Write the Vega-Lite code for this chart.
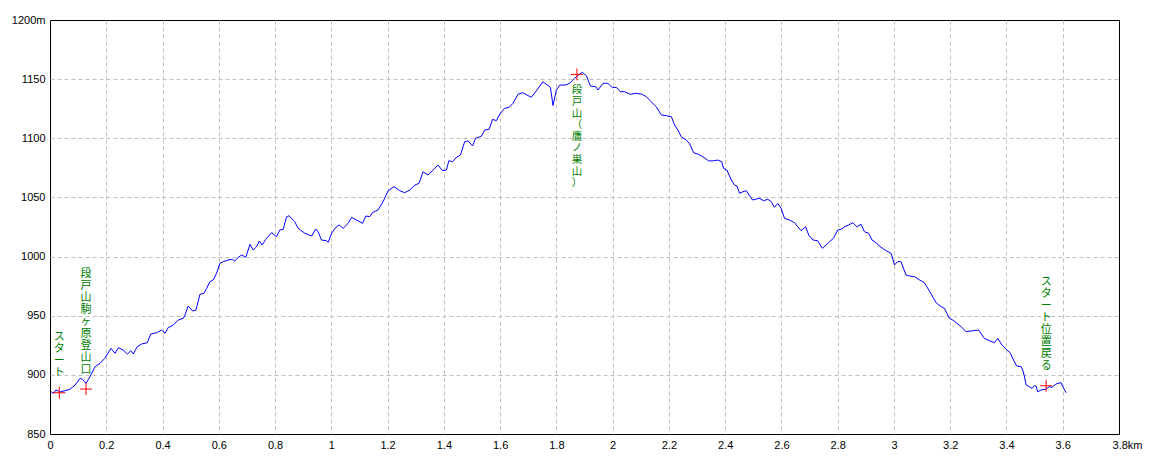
{
  "$schema": "https://vega.github.io/schema/vega-lite/v6.json",
  "width": 1069,
  "height": 414,
  "autosize": {"type": "none"},
  "padding": {"left": 50, "top": 20, "right": 41, "bottom": 30},
  "background": "white",
  "config": {
    "view": {"stroke": "black", "strokeWidth": 1},
    "axis": {
      "labelFont": "Liberation Sans",
      "labelFontSize": 11,
      "labelColor": "black",
      "domain": false,
      "ticks": false,
      "tickSize": 0,
      "gridColor": "#c0c0c0",
      "gridDash": [4, 3],
      "gridWidth": 1,
      "title": null
    },
    "text": {
      "font": "Noto Sans CJK JP",
      "fontSize": 11,
      "lineHeight": 12,
      "lineBreak": "\n",
      "color": "#008000",
      "align": "center",
      "baseline": "top"
    }
  },
  "datasets": {
    "profile": [
      {"km": 0.004, "elev": 885.7}, {"km": 0.012, "elev": 884.4}, {"km": 0.021, "elev": 887.2},
      {"km": 0.036, "elev": 885.7}, {"km": 0.053, "elev": 886.6}, {"km": 0.071, "elev": 887.8},
      {"km": 0.089, "elev": 891.4}, {"km": 0.107, "elev": 897.1}, {"km": 0.116, "elev": 896.2},
      {"km": 0.128, "elev": 892.8}, {"km": 0.142, "elev": 898.4}, {"km": 0.160, "elev": 906.9},
      {"km": 0.178, "elev": 909.8}, {"km": 0.195, "elev": 914.0}, {"km": 0.217, "elev": 922.4},
      {"km": 0.231, "elev": 918.2}, {"km": 0.243, "elev": 922.9}, {"km": 0.260, "elev": 921.0},
      {"km": 0.275, "elev": 917.6}, {"km": 0.287, "elev": 920.4}, {"km": 0.296, "elev": 917.6},
      {"km": 0.310, "elev": 923.8}, {"km": 0.326, "elev": 926.1}, {"km": 0.346, "elev": 927.2},
      {"km": 0.358, "elev": 934.5}, {"km": 0.379, "elev": 935.6}, {"km": 0.397, "elev": 937.9},
      {"km": 0.409, "elev": 935.1}, {"km": 0.420, "elev": 939.9}, {"km": 0.438, "elev": 942.1},
      {"km": 0.456, "elev": 946.4}, {"km": 0.474, "elev": 947.8}, {"km": 0.480, "elev": 950.6},
      {"km": 0.491, "elev": 958.2}, {"km": 0.507, "elev": 954.0}, {"km": 0.519, "elev": 954.8},
      {"km": 0.533, "elev": 968.1}, {"km": 0.547, "elev": 968.9}, {"km": 0.557, "elev": 973.2},
      {"km": 0.568, "elev": 978.7}, {"km": 0.580, "elev": 980.2}, {"km": 0.592, "elev": 985.8},
      {"km": 0.604, "elev": 994.3}, {"km": 0.616, "elev": 995.7}, {"km": 0.633, "elev": 997.1},
      {"km": 0.649, "elev": 997.7}, {"km": 0.657, "elev": 996.2}, {"km": 0.669, "elev": 999.4},
      {"km": 0.681, "elev": 1001.3}, {"km": 0.696, "elev": 999.4}, {"km": 0.711, "elev": 1010.4},
      {"km": 0.722, "elev": 1005.5}, {"km": 0.734, "elev": 1008.3}, {"km": 0.744, "elev": 1013.2},
      {"km": 0.754, "elev": 1009.8}, {"km": 0.767, "elev": 1014.6}, {"km": 0.788, "elev": 1020.2},
      {"km": 0.805, "elev": 1016.8}, {"km": 0.817, "elev": 1022.5}, {"km": 0.829, "elev": 1023.0},
      {"km": 0.841, "elev": 1033.7}, {"km": 0.850, "elev": 1034.5}, {"km": 0.870, "elev": 1029.5},
      {"km": 0.882, "elev": 1023.9}, {"km": 0.906, "elev": 1019.7}, {"km": 0.930, "elev": 1017.4},
      {"km": 0.945, "elev": 1023.3}, {"km": 0.953, "elev": 1021.0}, {"km": 0.965, "elev": 1014.0},
      {"km": 0.983, "elev": 1013.4}, {"km": 0.989, "elev": 1012.1}, {"km": 1.001, "elev": 1019.7},
      {"km": 1.016, "elev": 1024.7}, {"km": 1.028, "elev": 1026.7}, {"km": 1.042, "elev": 1023.9},
      {"km": 1.060, "elev": 1028.1}, {"km": 1.072, "elev": 1033.2}, {"km": 1.090, "elev": 1030.9},
      {"km": 1.111, "elev": 1028.1}, {"km": 1.123, "elev": 1034.3}, {"km": 1.137, "elev": 1033.7},
      {"km": 1.146, "elev": 1037.1}, {"km": 1.166, "elev": 1039.4}, {"km": 1.184, "elev": 1046.4},
      {"km": 1.202, "elev": 1055.7}, {"km": 1.223, "elev": 1059.1}, {"km": 1.243, "elev": 1055.7},
      {"km": 1.261, "elev": 1054.0}, {"km": 1.279, "elev": 1056.3}, {"km": 1.297, "elev": 1060.5},
      {"km": 1.312, "elev": 1061.9}, {"km": 1.326, "elev": 1071.7}, {"km": 1.344, "elev": 1069.0},
      {"km": 1.368, "elev": 1074.6}, {"km": 1.379, "elev": 1077.4}, {"km": 1.395, "elev": 1072.6},
      {"km": 1.409, "elev": 1073.2}, {"km": 1.418, "elev": 1081.0}, {"km": 1.431, "elev": 1080.2},
      {"km": 1.445, "elev": 1083.9}, {"km": 1.459, "elev": 1085.9}, {"km": 1.474, "elev": 1097.1},
      {"km": 1.486, "elev": 1097.7}, {"km": 1.502, "elev": 1093.5}, {"km": 1.513, "elev": 1100.0},
      {"km": 1.534, "elev": 1101.9}, {"km": 1.545, "elev": 1107.0}, {"km": 1.561, "elev": 1107.6},
      {"km": 1.573, "elev": 1116.0}, {"km": 1.587, "elev": 1114.9}, {"km": 1.599, "elev": 1120.5},
      {"km": 1.616, "elev": 1125.3}, {"km": 1.632, "elev": 1126.2}, {"km": 1.646, "elev": 1129.6},
      {"km": 1.664, "elev": 1137.4}, {"km": 1.681, "elev": 1138.5}, {"km": 1.711, "elev": 1134.6},
      {"km": 1.731, "elev": 1140.8}, {"km": 1.752, "elev": 1147.8}, {"km": 1.779, "elev": 1143.1},
      {"km": 1.788, "elev": 1127.7}, {"km": 1.800, "elev": 1140.8}, {"km": 1.812, "elev": 1145.0},
      {"km": 1.833, "elev": 1145.0}, {"km": 1.847, "elev": 1146.5}, {"km": 1.865, "elev": 1150.7},
      {"km": 1.883, "elev": 1154.3}, {"km": 1.892, "elev": 1155.8}, {"km": 1.907, "elev": 1152.7},
      {"km": 1.921, "elev": 1144.2}, {"km": 1.940, "elev": 1143.6}, {"km": 1.948, "elev": 1140.8},
      {"km": 1.966, "elev": 1146.5}, {"km": 1.983, "elev": 1146.5}, {"km": 1.999, "elev": 1142.8},
      {"km": 2.013, "elev": 1143.1}, {"km": 2.027, "elev": 1139.4}, {"km": 2.043, "elev": 1139.4},
      {"km": 2.063, "elev": 1137.2}, {"km": 2.082, "elev": 1138.0}, {"km": 2.102, "elev": 1137.4},
      {"km": 2.120, "elev": 1135.2}, {"km": 2.137, "elev": 1130.9}, {"km": 2.155, "elev": 1126.7},
      {"km": 2.173, "elev": 1119.7}, {"km": 2.191, "elev": 1119.1}, {"km": 2.209, "elev": 1118.2},
      {"km": 2.220, "elev": 1111.2}, {"km": 2.232, "elev": 1107.0}, {"km": 2.244, "elev": 1101.3},
      {"km": 2.262, "elev": 1098.5}, {"km": 2.274, "elev": 1095.2}, {"km": 2.288, "elev": 1087.8},
      {"km": 2.303, "elev": 1086.7}, {"km": 2.321, "elev": 1084.4}, {"km": 2.342, "elev": 1080.8},
      {"km": 2.359, "elev": 1081.0}, {"km": 2.374, "elev": 1081.6}, {"km": 2.388, "elev": 1080.2},
      {"km": 2.394, "elev": 1074.6}, {"km": 2.406, "elev": 1073.2}, {"km": 2.422, "elev": 1064.7},
      {"km": 2.433, "elev": 1060.5}, {"km": 2.442, "elev": 1059.7}, {"km": 2.451, "elev": 1053.5},
      {"km": 2.463, "elev": 1054.8}, {"km": 2.475, "elev": 1055.7}, {"km": 2.487, "elev": 1051.2},
      {"km": 2.498, "elev": 1047.8}, {"km": 2.522, "elev": 1049.3}, {"km": 2.536, "elev": 1047.2},
      {"km": 2.552, "elev": 1048.4}, {"km": 2.564, "elev": 1046.4}, {"km": 2.575, "elev": 1041.6},
      {"km": 2.587, "elev": 1045.0}, {"km": 2.599, "elev": 1040.8}, {"km": 2.611, "elev": 1032.3},
      {"km": 2.629, "elev": 1030.9}, {"km": 2.647, "elev": 1028.6}, {"km": 2.658, "elev": 1025.2},
      {"km": 2.670, "elev": 1021.9}, {"km": 2.686, "elev": 1025.2}, {"km": 2.697, "elev": 1018.2},
      {"km": 2.712, "elev": 1014.0}, {"km": 2.729, "elev": 1013.4}, {"km": 2.745, "elev": 1007.0},
      {"km": 2.759, "elev": 1009.8}, {"km": 2.771, "elev": 1012.6}, {"km": 2.785, "elev": 1015.4},
      {"km": 2.800, "elev": 1022.5}, {"km": 2.812, "elev": 1023.0}, {"km": 2.824, "elev": 1025.2},
      {"km": 2.839, "elev": 1026.7}, {"km": 2.854, "elev": 1028.6}, {"km": 2.868, "elev": 1025.2},
      {"km": 2.883, "elev": 1027.3}, {"km": 2.895, "elev": 1021.0}, {"km": 2.910, "elev": 1019.7},
      {"km": 2.922, "elev": 1014.0}, {"km": 2.937, "elev": 1011.7}, {"km": 2.948, "elev": 1008.9},
      {"km": 2.972, "elev": 1005.0}, {"km": 2.990, "elev": 1002.7}, {"km": 3.002, "elev": 992.9},
      {"km": 3.013, "elev": 995.7}, {"km": 3.025, "elev": 995.7}, {"km": 3.043, "elev": 984.4},
      {"km": 3.055, "elev": 983.6}, {"km": 3.073, "elev": 983.0}, {"km": 3.091, "elev": 980.2},
      {"km": 3.108, "elev": 977.9}, {"km": 3.124, "elev": 971.7}, {"km": 3.150, "elev": 961.0},
      {"km": 3.168, "elev": 957.6}, {"km": 3.179, "elev": 956.3}, {"km": 3.197, "elev": 947.8},
      {"km": 3.209, "elev": 946.4}, {"km": 3.239, "elev": 940.7}, {"km": 3.256, "elev": 936.5},
      {"km": 3.280, "elev": 937.3}, {"km": 3.301, "elev": 937.9}, {"km": 3.321, "elev": 930.9},
      {"km": 3.339, "elev": 928.9}, {"km": 3.357, "elev": 927.2}, {"km": 3.369, "elev": 930.9},
      {"km": 3.384, "elev": 925.2}, {"km": 3.399, "elev": 921.6}, {"km": 3.413, "elev": 918.7},
      {"km": 3.422, "elev": 914.0}, {"km": 3.436, "elev": 907.5}, {"km": 3.452, "elev": 906.9},
      {"km": 3.460, "elev": 902.7}, {"km": 3.470, "elev": 891.4}, {"km": 3.481, "elev": 890.0},
      {"km": 3.491, "elev": 888.6}, {"km": 3.499, "elev": 890.8}, {"km": 3.505, "elev": 890.6},
      {"km": 3.511, "elev": 885.7}, {"km": 3.523, "elev": 887.2}, {"km": 3.541, "elev": 888.0},
      {"km": 3.552, "elev": 890.0}, {"km": 3.562, "elev": 889.5}, {"km": 3.576, "elev": 892.3},
      {"km": 3.594, "elev": 893.4}, {"km": 3.600, "elev": 890.0}, {"km": 3.612, "elev": 884.9}
    ],
    "waypoints": [
      {"km": 0.033, "elev": 884.9, "name": "ス\nタ\nー\nト"},
      {"km": 0.128, "elev": 888.0, "name": "段\n戸\n山\n駒\nヶ\n原\n登\n山\n口"},
      {"km": 1.873, "elev": 1154.0, "name": "段\n戸\n山\n（\n鷹\nノ\n巣\n山\n）"},
      {"km": 3.541, "elev": 890.8, "name": "ス\nタ\nー\nト\n位\n置\n戻\nる"}
    ]
  },
  "encoding": {
    "x": {
      "field": "km",
      "type": "quantitative",
      "scale": {"domain": [0, 3.8], "nice": false, "zero": false},
      "axis": {
        "values": [0, 0.2, 0.4, 0.6, 0.8, 1, 1.2, 1.4, 1.6, 1.8, 2, 2.2, 2.4, 2.6, 2.8, 3, 3.2, 3.4, 3.6, 3.8],
        "format": "~g",
        "labelExpr": "abs(datum.value - 3.8) < 0.001 ? '3.8km' : datum.label",
        "labelOffset": {"condition": {"test": "abs(datum.value - 3.8) < 0.001", "value": 8}, "value": 0},
        "labelPadding": 5,
        "labelFlush": false,
        "labelOverlap": false,
        "gridOpacity": {"condition": {"test": "datum.value < 0.01 || datum.value > 3.79", "value": 0}, "value": 1}
      }
    },
    "y": {
      "field": "elev",
      "type": "quantitative",
      "scale": {"domain": [850, 1200], "nice": false, "zero": false},
      "axis": {
        "values": [850, 900, 950, 1000, 1050, 1100, 1150, 1200],
        "format": "d",
        "labelExpr": "datum.value == 1200 ? '1200m' : datum.label",
        "labelPadding": 5,
        "labelFlush": false,
        "labelOverlap": false,
        "gridOpacity": {"condition": {"test": "datum.value == 850 || datum.value == 1200", "value": 0}, "value": 1}
      }
    }
  },
  "layer": [
    {
      "data": {"name": "profile"},
      "mark": {"type": "line", "stroke": "#0000ff", "strokeWidth": 1, "interpolate": "linear"}
    },
    {
      "data": {"name": "waypoints"},
      "mark": {
        "type": "point",
        "shape": "M-1,0L1,0M0,-1L0,1",
        "size": 144,
        "filled": false,
        "stroke": "#ff0000",
        "strokeWidth": 1,
        "opacity": 1
      }
    },
    {
      "data": {"name": "waypoints"},
      "transform": [{"filter": "datum.km == 0.033"}],
      "mark": {"type": "text", "dy": -62},
      "encoding": {"text": {"field": "name", "type": "nominal"}}
    },
    {
      "data": {"name": "waypoints"},
      "transform": [{"filter": "datum.km == 0.128"}],
      "mark": {"type": "text", "dy": -121},
      "encoding": {"text": {"field": "name", "type": "nominal"}}
    },
    {
      "data": {"name": "waypoints"},
      "transform": [{"filter": "datum.km == 3.541"}],
      "mark": {"type": "text", "dy": -110},
      "encoding": {"text": {"field": "name", "type": "nominal"}}
    },
    {
      "data": {"name": "waypoints"},
      "transform": [{"filter": "datum.km == 1.873"}],
      "mark": {"type": "text", "dy": 11, "fontSize": 10.5, "lineHeight": 11.6},
      "encoding": {"text": {"field": "name", "type": "nominal"}}
    }
  ]
}
